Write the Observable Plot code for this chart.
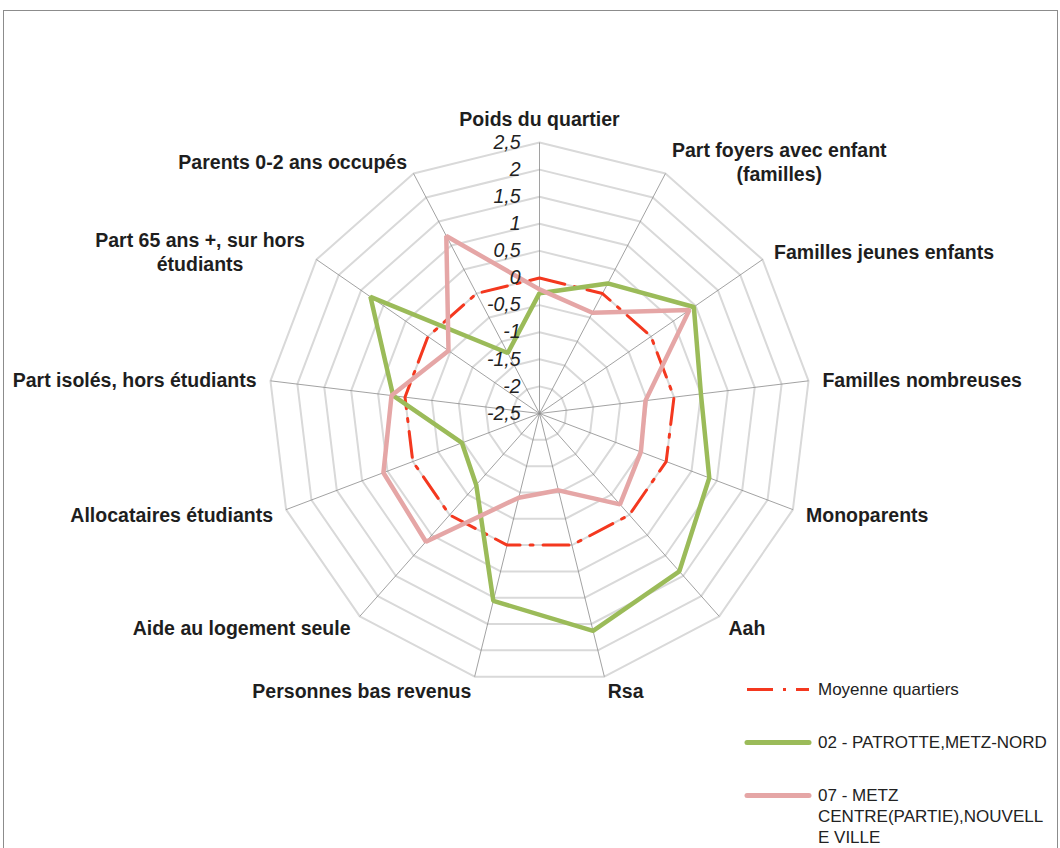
<!DOCTYPE html>
<html>
<head>
<meta charset="utf-8">
<script src="https://cdn.jsdelivr.net/npm/d3@7"></script>
<script src="https://cdn.jsdelivr.net/npm/@observablehq/plot@0.6"></script>
<style>
  html, body { margin: 0; padding: 0; }
  body { width: 1060px; height: 848px; overflow: hidden; background: #fff; position: relative;
         font-family: "Liberation Sans", Arial, sans-serif; }
  #frame { position: absolute; left: 3px; top: 10px; width: 1055px; height: 900px;
           border: 1px solid #8c8c8c; box-sizing: border-box; }
  #chart { position: absolute; left: 0; top: 0; }
  #legend { position: absolute; left: 0; top: 0; }
  .item { position: absolute; left: 744px; display: flex; align-items: flex-start; }
  .item svg { flex: none; }
  .item .txt { margin-left: 6px; font-size: 17px; line-height: 21px; color: #222; white-space: nowrap; }
</style>
</head>
<body>
<div id="frame"></div>
<div id="chart"></div>
<div id="legend"></div>
<script>
// ---- data ----
const categories = [
  "Poids du quartier",
  "Part foyers avec enfant\n(familles)",
  "Familles jeunes enfants",
  "Familles nombreuses",
  "Monoparents",
  "Aah",
  "Rsa",
  "Personnes bas revenus",
  "Aide au logement seule",
  "Allocataires étudiants",
  "Part isolés, hors étudiants",
  "Part 65 ans +, sur hors\nétudiants",
  "Parents 0-2 ans occupés"
];
const moyenneQuartiers = [0, 0, 0, 0, 0, 0, 0, 0, 0, 0, 0, 0, 0];
const patrotteMetzNord = [-0.28, 0.21, 0.96, 0.50, 0.85, 1.39, 1.63, 1.06, -0.74, -0.97, 0.22, 1.29, -1.24];
const metzCentreNouvelleVille = [-0.21, -0.40, 0.86, -0.53, -0.50, -0.26, -1.04, -0.90, 0.66, 0.58, 0.25, -0.46, 1.20];
const seriesNames = ["Moyenne quartiers", "02 - PATROTTE,METZ-NORD", "07 - METZ CENTRE(PARTIE),NOUVELLE VILLE"];
const seriesLegendLines = [["Moyenne quartiers"], ["02 - PATROTTE,METZ-NORD"], ["07 - METZ", "CENTRE(PARTIE),NOUVELL", "E VILLE"]];
const tickValues = [-2.5, -2, -1.5, -1, -0.5, 0, 0.5, 1, 1.5, 2, 2.5];
const tickLabels = ["-2,5", "-2", "-1,5", "-1", "-0,5", "0", "0,5", "1", "1,5", "2", "2,5"];

// ---- geometry / styling ----
const cx = 539, cy = 413, R = 271;
const vMin = -2.5, vMax = 2.5;
const span = vMax - vMin;
const pxPerUnit = R / span;
const n = categories.length;
const ang = i => i * 2 * Math.PI / n;
const rad = v => v - vMin;
const pt = (v, i) => ({x: rad(v) * Math.sin(ang(i)), y: rad(v) * Math.cos(ang(i))});

const colors = {moy: "#f4381f", green: "#9bbb59", pink: "#e5a6a6"};

const rings = tickValues.filter(t => t > vMin).flatMap(t =>
  categories.map((c, i) => ({t, ...pt(t, i)})));
const spokes = categories.map((c, i) => { const p = pt(vMax, i); return {x1: 0, y1: 0, x2: p.x, y2: p.y}; });
const seriesRows = (vals, name) => vals.map((v, i) => ({name, ...pt(v, i)}));

const labelFont = 'bold 19.5px "Liberation Sans", Arial, sans-serif';
const ctx = document.createElement("canvas").getContext("2d");
ctx.font = labelFont;
const gap = 14;
const labelRows = categories.map((c, i) => {
  const s = Math.sin(ang(i)), co = Math.cos(ang(i));
  const rr = R + gap;
  let px = rr * s, py = rr * co;
  const w = Math.max(...c.split("\n").map(l => ctx.measureText(l).width));
  if (s > 0.1) px += w / 2;
  else if (s < -0.1) px -= w / 2;
  else if (co > 0) py += 10;
  return {label: c, x: px / pxPerUnit, y: py / pxPerUnit};
});

const tickRows = tickValues.map((t, k) => ({x: 0, y: rad(t), label: tickLabels[k]}));

const plot = Plot.plot({
  width: 1060,
  height: 848,
  margin: 0,
  x: {domain: [-span, span], range: [cx - R, cx + R], axis: null},
  y: {domain: [-span, span], range: [cy + R, cy - R], axis: null},
  style: {background: "transparent", overflow: "visible"},
  marks: [
    Plot.line(rings, {x: "x", y: "y", z: "t", curve: "linear-closed", stroke: "#d9d9d9", strokeWidth: 2}),
    Plot.link(spokes, {x1: "x1", y1: "y1", x2: "x2", y2: "y2", stroke: "#8a8a8a", strokeWidth: 0.8}),
    Plot.line(seriesRows(moyenneQuartiers, seriesNames[0]), {x: "x", y: "y", curve: "linear-closed",
      stroke: colors.moy, strokeWidth: 3, strokeDasharray: "26 10 3 10", strokeLinejoin: "round"}),
    Plot.line(seriesRows(patrotteMetzNord, seriesNames[1]), {x: "x", y: "y", curve: "linear-closed",
      stroke: colors.green, strokeWidth: 4.5, strokeLinejoin: "miter"}),
    Plot.line(seriesRows(metzCentreNouvelleVille, seriesNames[2]), {x: "x", y: "y", curve: "linear-closed",
      stroke: colors.pink, strokeWidth: 4.5, strokeLinejoin: "miter"}),
    Plot.text(tickRows, {x: "x", y: "y", text: "label", textAnchor: "end", dx: -19,
      fontSize: 19.5, fontStyle: "italic", fill: "#222", fontFamily: '"Liberation Sans", Arial, sans-serif'}),
    Plot.text(labelRows, {x: "x", y: "y", text: "label", textAnchor: "middle", lineAnchor: "middle",
      lineHeight: 1.23, fontSize: 19.5, fontWeight: "bold", fill: "#1e1e1e",
      fontFamily: '"Liberation Sans", Arial, sans-serif'})
  ]
});
document.getElementById("chart").appendChild(plot);

const legendTops = [679, 732, 785];
const legendStyles = [
  {stroke: colors.moy, width: 3, dash: "26 10 3 10", cap: "butt"},
  {stroke: colors.green, width: 5, dash: null, cap: "round"},
  {stroke: colors.pink, width: 5, dash: null, cap: "round"}
];
const legend = document.getElementById("legend");
seriesNames.forEach((name, k) => {
  const div = document.createElement("div");
  div.className = "item";
  div.style.top = legendTops[k] + "px";
  const st = legendStyles[k];
  div.innerHTML =
    `<svg width="68" height="21"><line x1="3" y1="10.5" x2="65" y2="10.5" stroke="${st.stroke}" stroke-width="${st.width}" stroke-linecap="${st.cap}" ${st.dash ? `stroke-dasharray="${st.dash}"` : ""}/></svg>` +
    `<div class="txt">${seriesLegendLines[k].join("<br>")}</div>`;
  div.title = name;
  legend.appendChild(div);
});
</script>
</body>
</html>
